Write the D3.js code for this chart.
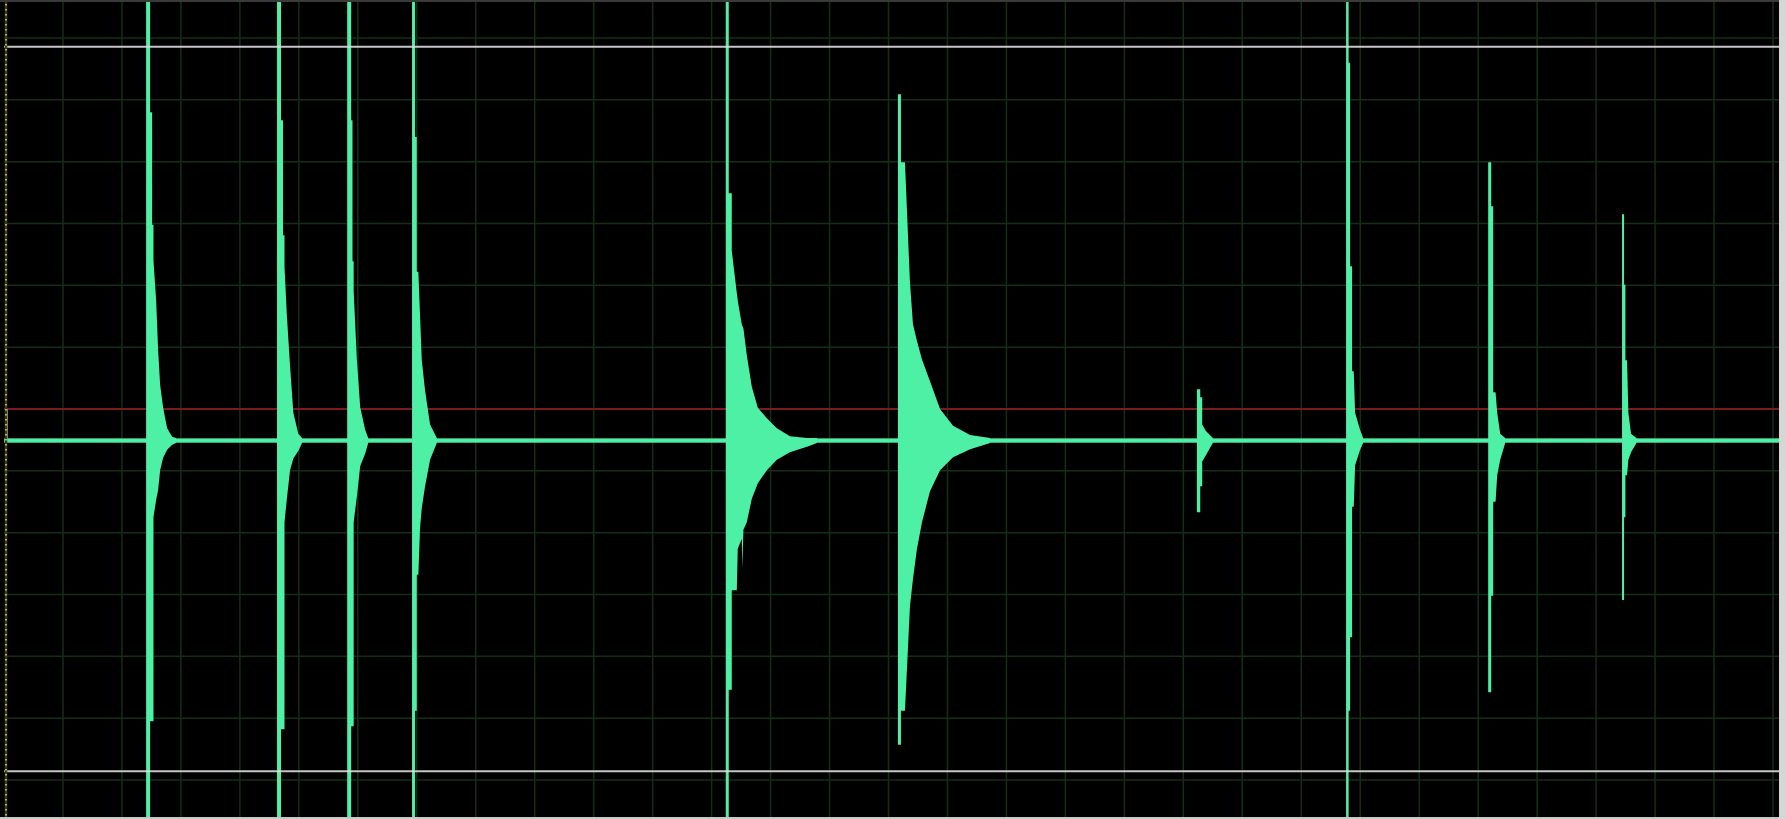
<!DOCTYPE html>
<html>
<head>
<meta charset="utf-8">
<script src="https://cdn.jsdelivr.net/npm/d3@7"></script>
<style>
  html, body { margin: 0; padding: 0; background: #000; overflow: hidden; }
  svg { display: block; }
</style>
</head>
<body>
<div id="chart"></div>
<script>
// time in ms (10 ms per division), amplitude in divisions
const timeDomain = [0, 300]
const ampDomain = [-6, 6]
const clipLevels = [5.86, -5.86]
const triggerLevel = 0
const dcOffset = -0.51
const noiseHalfWidth = 0.035

const onsets = [24.1, 46.3, 58.2, 69.2, 122.4, 151.6, 202.3, 227.6, 251.7, 274.4]

// envelope of each hit: [ms after onset, upper, lower]
const hit1 = [[0, 7, -7], [0.68, 7, -7], [0.68, 4.80, -5.05], [1.02, 4.80, -5.05], [1.02, 2.98, -5.05], [1.25, 2.98, -5.05], [1.25, 2.40, -1.75], [1.70, 1.76, -1.47], [2.04, 0.95, -1.31], [2.38, 0.39, -0.99], [2.89, 0.02, -0.79], [3.57, -0.31, -0.66], [4.42, -0.45, -0.58], [5.10, -0.47, -0.55]]
const hit2 = [[0, 7, -7], [0.68, 7, -7], [0.68, 4.67, -5.18], [1.02, 4.67, -5.18], [1.02, 2.81, -5.18], [1.27, 2.81, -5.18], [1.27, 2.30, -1.83], [1.65, 1.55, -1.47], [2.21, 0.70, -0.99], [2.77, -0.06, -0.80], [3.61, -0.40, -0.68], [4.24, -0.47, -0.55]]
const hit3 = [[0, 7, -7], [0.68, 7, -7], [0.68, 4.67, -5.13], [0.90, 4.67, -5.13], [0.90, 2.39, -5.13], [1.10, 2.39, -5.13], [1.10, 1.90, -1.83], [1.65, 0.79, -1.41], [2.21, 0.03, -0.92], [3.06, -0.34, -0.72], [3.57, -0.47, -0.55]]
const hit4 = [[0, 7, -7], [0.51, 7, -7], [0.51, 4.40, -4.88], [0.80, 4.40, -4.88], [0.80, 2.22, -2.68], [1.07, 2.22, -2.68], [1.36, 1.50, -1.92], [1.65, 0.79, -1.60], [2.21, 0.30, -1.25], [3.06, -0.25, -0.82], [4.20, -0.47, -0.55]]
const hit5 = [[0, 7, -7], [0.51, 7, -7], [0.51, 3.49, -4.54], [1.02, 3.49, -4.54], [1.02, 2.56, -2.93], [1.87, 1.88, -2.93], [2.04, 1.75, -2.26], [2.72, 1.37, -2.10], [2.80, 1.35, -2.59], [3.00, 1.30, -1.95], [3.57, 0.87, -1.83], [4.42, 0.36, -1.45], [5.44, 0.02, -1.20], [6.97, -0.15, -0.99], [8.67, -0.31, -0.82], [10.88, -0.44, -0.70], [13.77, -0.47, -0.61], [15.47, -0.47, -0.55]]
const hit6 = [[0, 5.09, -5.43], [0.51, 5.09, -5.43], [0.51, 3.99, -4.88], [1.19, 3.99, -4.88], [2.04, 2.05, -3.19], [2.55, 1.37, -2.75], [3.23, 1.10, -2.26], [4.08, 0.80, -1.83], [5.44, 0.45, -1.33], [7.14, 0.00, -0.99], [9.35, -0.27, -0.78], [12.24, -0.42, -0.65], [15.64, -0.47, -0.55]]
const hit7 = [[0, 0.32, -1.67], [0.57, 0.32, -1.67], [0.57, 0.19, -1.25], [0.90, 0.19, -1.25], [0.90, -0.25, -0.85], [1.50, -0.35, -0.75], [2.70, -0.47, -0.55]]
const hit8 = [[0, 7, -7], [0.43, 7, -7], [0.43, 5.60, -4.88], [0.68, 5.60, -4.88], [0.68, 2.31, -3.69], [1.02, 2.31, -3.69], [1.02, 0.61, -1.58], [1.30, 0.61, -1.58], [1.53, -0.06, -0.91], [2.38, -0.34, -0.66], [2.89, -0.47, -0.55]]
const hit9 = [[0, 3.99, -4.58], [0.51, 3.99, -4.58], [0.51, 3.28, -3.02], [0.85, 3.28, -3.02], [0.85, 0.27, -1.50], [1.25, 0.27, -1.50], [1.53, -0.06, -1.07], [2.04, -0.40, -0.82], [2.89, -0.47, -0.55]]
const hit10 = [[0, 3.15, -3.09], [0.34, 3.15, -3.09], [0.34, 2.01, -1.75], [0.57, 2.01, -1.75], [0.57, 0.79, -1.07], [0.85, 0.79, -1.07], [1.07, -0.06, -0.82], [1.53, -0.40, -0.70], [2.44, -0.47, -0.55]]

const hits = [hit1, hit2, hit3, hit4, hit5, hit6, hit7, hit8, hit9, hit10]

const width = 1786
const height = 819
const plot = { left: 4, right: 1779, top: 2, bottom: 817 }

const waveColor = '#4ef0a6'
const gridColor = '#152e16'

const x = d3.scaleLinear().domain(timeDomain).range([4, 1773])
const y = d3.scaleLinear().domain(ampDomain).range([780, 38])

const svg = d3.select('#chart')
  .append('svg')
  .attr('width', width)
  .attr('height', height)

svg.append('rect')
  .attr('width', width)
  .attr('height', height)
  .attr('fill', '#000')

svg.append('defs')
  .append('clipPath')
  .attr('id', 'plot-clip')
  .append('rect')
  .attr('x', plot.left)
  .attr('y', plot.top)
  .attr('width', plot.right - plot.left)
  .attr('height', plot.bottom - plot.top)

const g = svg.append('g').attr('clip-path', 'url(#plot-clip)')

// grid
g.append('g')
  .selectAll('line')
  .data(d3.range(timeDomain[0] + 10, timeDomain[1] + 1, 10))
  .join('line')
  .attr('x1', d => x(d))
  .attr('x2', d => x(d))
  .attr('y1', plot.top)
  .attr('y2', plot.bottom)
  .attr('stroke', gridColor)
  .attr('stroke-width', 1.5)

g.append('g')
  .selectAll('line')
  .data(d3.range(ampDomain[0], ampDomain[1] + 1, 1))
  .join('line')
  .attr('x1', plot.left)
  .attr('x2', plot.right)
  .attr('y1', d => y(d))
  .attr('y2', d => y(d))
  .attr('stroke', gridColor)
  .attr('stroke-width', 1.5)

// trigger level
g.append('line')
  .attr('x1', plot.left)
  .attr('x2', plot.right)
  .attr('y1', y(triggerLevel))
  .attr('y2', y(triggerLevel))
  .attr('stroke', '#7e1a1a')
  .attr('stroke-width', 2)

// idle trace
g.append('rect')
  .attr('x', plot.left)
  .attr('width', plot.right - plot.left)
  .attr('y', y(dcOffset + noiseHalfWidth))
  .attr('height', y(dcOffset - noiseHalfWidth) - y(dcOffset + noiseHalfWidth))
  .attr('fill', waveColor)

const area = d3.area()
  .x(d => x(d.t))
  .y0(d => y(d.lo))
  .y1(d => y(d.hi))

g.append('g')
  .selectAll('path')
  .data(hits.map((h, i) => h.map(p => ({ t: onsets[i] + p[0], hi: p[1], lo: p[2] }))))
  .join('path')
  .attr('d', area)
  .attr('fill', waveColor)

// clip levels
g.append('g')
  .selectAll('line')
  .data(clipLevels)
  .join('line')
  .attr('x1', plot.left)
  .attr('x2', plot.right)
  .attr('y1', d => y(d))
  .attr('y2', d => y(d))
  .attr('stroke', '#dcdcdc')
  .attr('stroke-width', 2)
  .attr('stroke-opacity', 0.9)

// offset marker on the left edge
svg.append('line')
  .attr('x1', 7)
  .attr('x2', 7)
  .attr('y1', y(triggerLevel))
  .attr('y2', y(dcOffset))
  .attr('stroke', '#bfbfbf')
  .attr('stroke-width', 1.5)

// left ruler
svg.append('line')
  .attr('x1', 6)
  .attr('x2', 6)
  .attr('y1', plot.top)
  .attr('y2', plot.bottom)
  .attr('stroke', '#3d3d08')
  .attr('stroke-width', 2.5)

svg.append('line')
  .attr('x1', 6)
  .attr('x2', 6)
  .attr('y1', plot.top + 2)
  .attr('y2', plot.bottom)
  .attr('stroke', '#e6e6a8')
  .attr('stroke-width', 1.4)
  .attr('stroke-dasharray', '1.4 3.6')

// frame
svg.append('rect')
  .attr('x', 0).attr('y', 0)
  .attr('width', width).attr('height', plot.top)
  .attr('fill', '#3a3a3a')

svg.append('rect')
  .attr('x', 0).attr('y', plot.bottom)
  .attr('width', width).attr('height', height - plot.bottom)
  .attr('fill', '#c8c8c8')

svg.append('rect')
  .attr('x', plot.right).attr('y', 0)
  .attr('width', width - plot.right).attr('height', height)
  .attr('fill', '#d6d6d6')
</script>
</body>
</html>
